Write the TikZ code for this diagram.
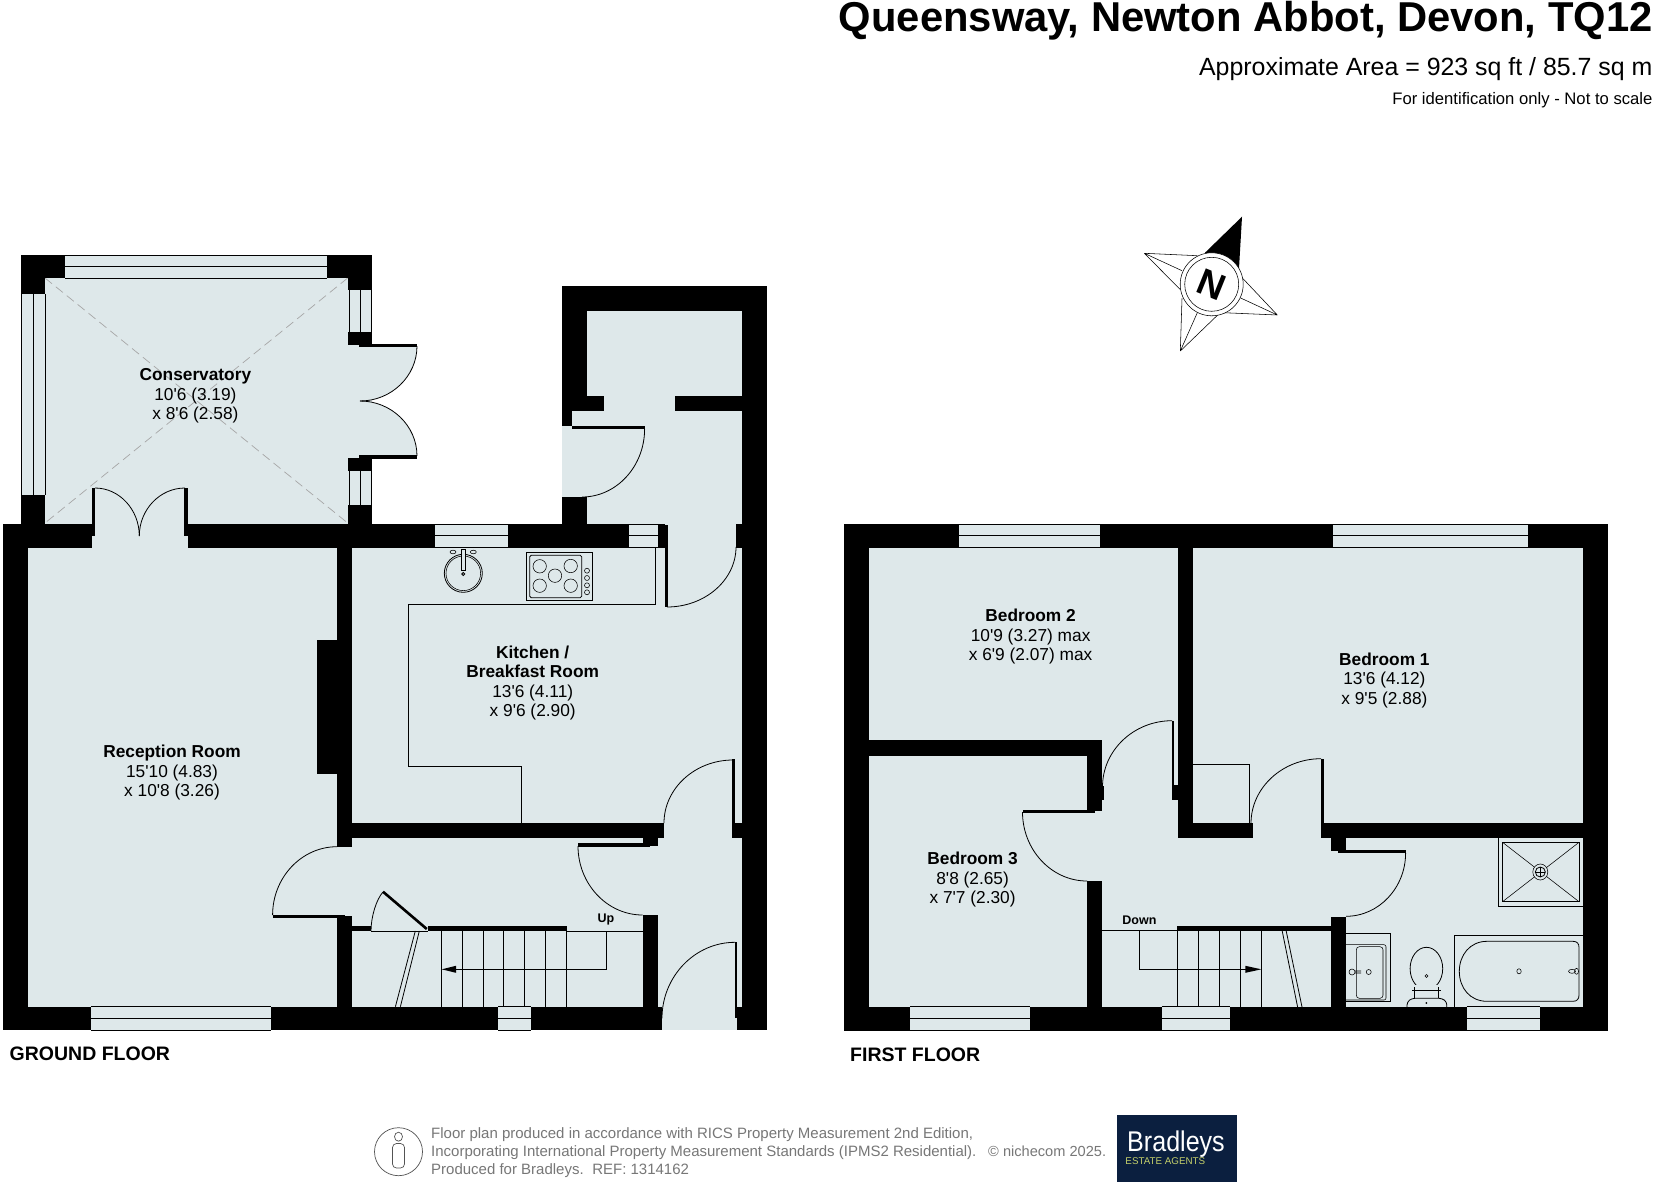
\documentclass[tikz,border=0pt]{standalone}
\usepackage{fontspec}
\setmainfont{Liberation Sans}
\usetikzlibrary{calc}
\definecolor{floorc}{HTML}{DEE8EA}
\definecolor{foot}{HTML}{777777}
\definecolor{navy}{HTML}{0B1F3F}
\definecolor{logoyel}{HTML}{C4CF6A}
\tikzset{
  wallfill/.style={fill=black},
  thinline/.style={draw=black,line width=0.8pt},
  hair/.style={draw=black,line width=0.55pt},
  roomlabel/.style={align=center,inner sep=0pt,font=\fontsize{17.3}{19.5}\selectfont},
  stairlabel/.style={inner sep=0pt,font=\bfseries\fontsize{12.5}{14}\selectfont},
  floorlabel/.style={anchor=base west,inner sep=0pt,font=\bfseries\fontsize{19.5}{22}\selectfont},
  footline/.style={anchor=base west,inner sep=0pt,text=foot,font=\fontsize{15}{18}\selectfont},
  titletext/.style={anchor=base east,inner sep=0pt}
}
\newcommand{\ap}{\textquotesingle}
\newcommand{\wl}[4]{\fill[wallfill] (#1,#2) rectangle (#3,#4);}
\newcommand{\hwin}[4]{\fill[floorc] (#1,#3) rectangle (#2,#4);
  \draw[thinline] (#1,#3) -- (#2,#3) (#1,{(#3+#4)/2}) -- (#2,{(#3+#4)/2}) (#1,#4) -- (#2,#4);}
\newcommand{\vwin}[4]{\fill[floorc] (#1,#3) rectangle (#2,#4);
  \draw[thinline] (#1,#3) -- (#1,#4) ({(#1+#2)/2},#3) -- ({(#1+#2)/2},#4) (#2,#3) -- (#2,#4);}
\newcommand{\swing}[3]{\draw[thinline] (#1) .. controls ($(#1)!0.55!(#2)$) and ($(#3)!0.55!(#2)$) .. (#3);}
\begin{document}
\begin{tikzpicture}[x=1pt,y=-1pt]
\useasboundingbox (0,0) rectangle (1656,1185);
\fill[white] (0,0) rectangle (1656,1185);
% ===== floors
\fill[floorc] (3,523.5) rectangle (767,1030.3);
\fill[floorc] (21,255) rectangle (371.6,523.5);
\fill[floorc] (562,286) rectangle (767,523.5);
\fill[floorc] (844,524) rectangle (1608,1030.7);
\fill[floorc] (360,345) -- (417,345) .. controls (417,376) and (391,401) .. (360,401)
   .. controls (391,401) and (417,426) .. (417,457) -- (360,457) -- cycle;
% ===== conservatory
\draw[gray!70,line width=0.7pt,dash pattern=on 9pt off 5pt] (45,278) -- (347.7,523) (347.7,278) -- (45,523);
\wl{21}{255}{65.2}{278.3}
\wl{21}{255}{45}{294}
\wl{21}{495}{45}{523.5}
\wl{326.8}{255}{371.6}{278.3}
\wl{347.7}{278}{371.6}{290}
\wl{347.7}{332}{371.6}{345.3}
\wl{359}{343.7}{417}{346.7}
\wl{359}{455}{417}{459}
\wl{347.7}{458}{371.6}{470.7}
\wl{347.7}{505}{371.6}{523.5}
\hwin{65.2}{326.8}{255}{278.3}
\vwin{21.5}{45}{294}{495}
\vwin{349}{371.6}{290}{332}
\vwin{349}{371.6}{470.7}{505}
\coordinate (ce1) at (417,346); \coordinate (cec) at (417,401); \coordinate (cem) at (360,401); \coordinate (ce2) at (417,456);
\swing{ce1}{cec}{cem}
\swing{ce2}{cec}{cem}
\wl{92}{488}{95}{536}
\wl{184}{488}{188}{536}
\coordinate (cs1) at (95,488); \coordinate (csc) at (139.3,488); \coordinate (csm) at (139.3,536); \coordinate (cs2) at (185,488);
\swing{cs1}{csc}{csm}
\swing{cs2}{csc}{csm}
% ===== ground floor walls
\wl{3}{523.5}{28}{1030.3}
\wl{3}{523.5}{92}{547.5}
\wl{188}{523.5}{434.7}{547.5}
\wl{507.9}{523.5}{629}{547.5}
\wl{658.3}{523.5}{665}{547.5}
\wl{736}{523.5}{767}{547.5}
\wl{742}{286}{767}{1006.7}
\wl{3}{1006.7}{91}{1030.3}
\wl{271}{1006.7}{498}{1030.3}
\wl{530.7}{1006.7}{662}{1030.3}
\wl{737}{1006.7}{767}{1030.3}
\hwin{91}{271}{1006.7}{1030.3}
\hwin{498}{530.7}{1006.7}{1030.3}
\hwin{434.7}{507.9}{524}{547.5}
\hwin{629}{658.3}{524}{547.5}
\wl{336.7}{547}{352}{846.7}
\wl{336.7}{916}{352}{1007}
\wl{317.3}{640}{336.7}{774}
\wl{272.6}{915}{345}{918}
\wl{352}{823}{664}{837.7}
\wl{642.6}{837.7}{658}{846}
\wl{578}{843.3}{649.6}{846.7}
\wl{732.2}{823}{742}{837.7}
\wl{732.3}{758.7}{735.3}{830}
\wl{642.6}{915}{658}{1007}
\wl{665}{525}{667.7}{607}
\wl{735}{942.3}{737}{1018.3}
\wl{427.8}{926}{567}{931.3}
\wl{352}{926}{371}{931.3}
% rear store
\wl{562}{286}{767}{311}
\wl{562}{286}{587}{411}
\wl{562}{411}{572}{426}
\wl{572}{426}{644.6}{429}
\wl{562}{497}{587}{523.5}
\wl{587}{396}{604}{411}
\wl{674.5}{396}{742}{411}
% door swings, ground floor
\coordinate (a1) at (644.6,429); \coordinate (a1c) at (644.6,497); \coordinate (a1e) at (582,497); \swing{a1}{a1c}{a1e}
\coordinate (a2) at (667,607); \coordinate (a2c) at (736,607); \coordinate (a2e) at (736,547); \swing{a2}{a2c}{a2e}
\coordinate (a3) at (733,760); \coordinate (a3c) at (664,760); \coordinate (a3e) at (664,823); \swing{a3}{a3c}{a3e}
\coordinate (a4) at (578,846); \coordinate (a4c) at (578,915); \coordinate (a4e) at (642.6,915); \swing{a4}{a4c}{a4e}
\coordinate (a5) at (735,942.3); \coordinate (a5c) at (662,942.3); \coordinate (a5e) at (662,1018.3); \swing{a5}{a5c}{a5e}
\coordinate (a6) at (272.6,915); \coordinate (a6c) at (272.6,846.7); \coordinate (a6e) at (337,846.7); \swing{a6}{a6c}{a6e}
\coordinate (a7) at (383,892); \coordinate (a7c) at (371,905); \coordinate (a7e) at (371,931); \swing{a7}{a7c}{a7e}
\draw[black,line width=2.6pt] (383,891.7) -- (426.8,929);
% stairs ground
\draw[thinline] (371,931.3) -- (427.8,931.3) (567,931.3) -- (642.6,931.3);
\foreach \sx in {441.7,462.6,483.5,503.4,524.3,545.6,566.5} {\draw[thinline] (\sx,931) -- (\sx,1006.7);}
\draw[thinline] (606.3,931) -- (606.3,969.3) -- (456,969.3);
\fill[black] (441.7,969.3) -- (456,965.8) -- (456,972.8) -- cycle;
\draw[thinline] (415.3,931) -- (395.4,1006.7) (419.3,931) -- (400.4,1006.7);
% kitchen fittings
\draw[thinline] (655.7,547.3) -- (655.7,604.3) -- (408.3,604.3) -- (408.3,766.3) -- (521.7,766.3) -- (521.7,823);
\draw[thinline] (463.3,573.3) circle (19);
\draw[hair] (463.3,573.3) circle (17.3);
\fill[floorc] (461,549.3) rectangle (465.6,570);
\draw[thinline] (461,549.3) rectangle (465.6,570);
\draw[thinline] (463.3,574) circle (1.5);
\draw[hair] (453,552) ellipse (3 and 1.8) (473.3,552) ellipse (3 and 1.8);
\draw[thinline] (526.3,552.3) rectangle (592.7,600.3);
\draw[thinline,rounded corners=1.5pt] (529.7,555.3) rectangle (581.7,597.7);
\foreach \bx/\by in {539.7/566.3,570.7/566,555/575.7,539.7/585.7,570.7/585.7} {\draw[hair] (\bx,\by) circle (6.7);}
\foreach \ky in {570.7,578,585.3,592.3} {\draw[hair] (587,\ky) circle (2.5);}
% ===== first floor walls
\wl{844}{524}{868.8}{1030.7}
\wl{1583}{524}{1608}{1030.7}
\wl{844}{524}{959}{547.5}
\wl{1100}{524}{1332.7}{547.5}
\wl{1528}{524}{1608}{547.5}
\wl{844}{1006.7}{910}{1030.7}
\wl{1030}{1006.7}{1161.8}{1030.7}
\wl{1230}{1006.7}{1466.7}{1030.7}
\wl{1539.8}{1006.7}{1608}{1030.7}
\hwin{959}{1100}{524}{547.5}
\hwin{1332.7}{1528}{524}{547.5}
\hwin{910}{1030}{1006.7}{1030.7}
\hwin{1161.8}{1230}{1006.7}{1030.7}
\hwin{1466.7}{1539.8}{1006.7}{1030.7}
\wl{868.8}{740}{1102}{755.7}
\wl{1087}{740}{1102}{810.7}
\wl{1102}{786}{1103.6}{800}
\wl{1022.5}{810}{1095}{813.3}
\wl{1087}{881}{1102}{1007}
\wl{1178}{547}{1193}{837.7}
\wl{1171.8}{720.7}{1174}{791.7}
\wl{1172}{785}{1178}{800}
\wl{1178}{823.3}{1253}{837.7}
\wl{1321}{758.7}{1323.5}{837.7}
\wl{1321.5}{823.3}{1583}{837.7}
\wl{1331.4}{837}{1346}{851}
\wl{1338.4}{850}{1405.6}{853}
\wl{1331.4}{916.7}{1346}{1007}
\wl{1177}{926}{1331.4}{931}
\draw[thinline] (1193,764.3) -- (1249.4,764.3) -- (1249.4,823);
\coordinate (b1) at (1022.5,812); \coordinate (b1c) at (1022.5,881); \coordinate (b1e) at (1087,881); \swing{b1}{b1c}{b1e}
\coordinate (b2) at (1172,720.7); \coordinate (b2c) at (1102.5,720.7); \coordinate (b2e) at (1102.5,786.7); \swing{b2}{b2c}{b2e}
\coordinate (b3) at (1321,758.7); \coordinate (b3c) at (1251,758.7); \coordinate (b3e) at (1251,823.3); \swing{b3}{b3c}{b3e}
\coordinate (b4) at (1405.6,853); \coordinate (b4c) at (1405.6,916.3); \coordinate (b4e) at (1346,916.3); \swing{b4}{b4c}{b4e}
% stairs first
\draw[thinline] (1102,930.5) -- (1177,930.5);
\foreach \sx in {1177,1198.6,1219.5,1240.4,1261.3} {\draw[thinline] (\sx,931) -- (\sx,1007);}
\draw[thinline] (1139.4,930.5) -- (1139.4,969.3) -- (1247,969.3);
\fill[black] (1261.3,969.3) -- (1245.4,965.8) -- (1245.4,972.8) -- cycle;
\draw[thinline] (1282.2,931) -- (1297.6,1007) (1286.2,931) -- (1302,1007);
% bathroom
\draw[thinline] (1498,837.7) rectangle (1583,906.3);
\draw[thinline] (1502.5,842.3) rectangle (1579,901.7);
\draw[hair] (1502.5,842.3) -- (1579,901.7) (1502.5,901.7) -- (1579,842.3);
\fill[floorc] (1540.3,872) ellipse (7.5 and 8);
\draw[hair] (1540.3,872) ellipse (7.5 and 8);
\draw[thinline] (1540.3,872) circle (5);
\draw[hair] (1535.3,872) -- (1545.3,872) (1540.3,867) -- (1540.3,877);
\draw[thinline] (1346,933.3) -- (1390.6,933.3) -- (1390.6,1001.7) -- (1346,1001.7);
\draw[hair,rounded corners=2pt] (1346,944.7) -- (1386,944.7) -- (1386,1000) -- (1346,1000);
\draw[hair,rounded corners=3pt] (1356.3,946.7) rectangle (1383,998.3);
\draw[hair] (1352,972) circle (3) (1368.7,972) circle (2.5) (1355,971) -- (1361,971) (1355,973) -- (1361,973);
\draw[thinline] (1426.4,968.6) ellipse (16.3 and 21.3);
\draw[thinline] (1414.5,987) -- (1414.5,998.3) (1438.3,987) -- (1438.3,998.3);
\fill[floorc] (1415,985) rectangle (1438,997);
\draw[thinline] (1412,990) -- (1441,990);
\draw[thinline,rounded corners=3pt] (1407,1007) -- (1407,1002) -- (1412,998.3) -- (1442,998.3) -- (1446.8,1002) -- (1446.8,1007);
\draw[hair] (1426.4,976) circle (1.5);
\fill[black] (1426.4,1003) circle (1);
\draw[thinline] (1454.3,1006.7) -- (1454.3,935.3) -- (1583,935.3);
\draw[thinline] (1573,941.3) -- (1487,941.3) .. controls (1470,941.3) and (1459.3,955) .. (1459.3,971.3)
   .. controls (1459.3,988) and (1470,1001.3) .. (1487,1001.3) -- (1573,1001.3)
   .. controls (1577,1001.3) and (1579,999) .. (1579,995) -- (1579,947.5)
   .. controls (1579,943.5) and (1577,941.3) .. (1573,941.3) -- cycle;
\draw[hair] (1519,971.3) ellipse (2.2 and 2.6);
\draw[hair] (1572,971.3) ellipse (3.5 and 2) (1576.5,971.3) ellipse (2 and 3);
% ===== labels
\node[roomlabel] (conservatory) at (195.4,396) {\textbf{Conservatory}\\10\ap 6 (3.19)\\x 8\ap 6 (2.58)};
\node[roomlabel] (kitchen) at (532.7,683) {\textbf{Kitchen /}\\\textbf{Breakfast Room}\\13\ap 6 (4.11)\\x 9\ap 6 (2.90)};
\node[roomlabel] (reception) at (172,773) {\textbf{Reception Room}\\15\ap 10 (4.83)\\x 10\ap 8 (3.26)};
\node[roomlabel] (bed2) at (1030.6,637) {\textbf{Bedroom 2}\\10\ap 9 (3.27) max\\x 6\ap 9 (2.07) max};
\node[roomlabel] (bed1) at (1384.4,680.5) {\textbf{Bedroom 1}\\13\ap 6 (4.12)\\x 9\ap 5 (2.88)};
\node[roomlabel] (bed3) at (972.6,880) {\textbf{Bedroom 3}\\8\ap 8 (2.65)\\x 7\ap 7 (2.30)};
\node[stairlabel] (uplabel) at (606,919) {Up};
\node[stairlabel] (downlabel) at (1139.4,920.7) {Down};
\node[floorlabel] (gf) at (9.5,1060.5) {GROUND FLOOR};
\node[floorlabel] (ff) at (850,1061.5) {FIRST FLOOR};
% ===== title
\node[titletext,font=\bfseries\fontsize{41.75}{46}\selectfont] (title) at (1652.6,31.5) {Queensway, Newton Abbot, Devon, TQ12};
\node[titletext,font=\fontsize{24.9}{28}\selectfont] (area) at (1652.6,76) {Approximate Area = 923 sq ft / 85.7 sq m};
\node[titletext,font=\fontsize{16.65}{19}\selectfont] (note) at (1652.6,105) {For identification only - Not to scale};
% ===== compass
\draw[hair] (1144.3,253.3) -- (1197.3,255.7) (1144.3,253.3) -- (1180.7,290) (1144.3,253.3) -- (1182,270.7);
\draw[hair] (1277.3,315) -- (1241.7,277.3) (1277.3,315) -- (1223.3,312.7) (1277.3,315) -- (1240,297.7);
\draw[hair] (1180.3,351) -- (1182,298.3) (1180.3,351) -- (1217.7,315) (1180.3,351) -- (1197.3,312.7);
\fill[black] (1205,252.7) -- (1242,216.7) -- (1239,268.3) -- cycle;
\draw[hair,fill=white] (1211.7,284.3) circle (31.5);
\draw[hair] (1211.7,284.3) circle (27);
\node[inner sep=0pt,rotate=-22,font=\bfseries\fontsize{37}{39}\selectfont] (north) at (1212,285) {N};
% ===== footer
\draw[draw=foot!70!black,line width=0.7pt] (398.5,1151.7) circle (24);
\draw[draw=foot!70!black,line width=0.7pt] (398.5,1136.7) ellipse (4 and 4.5);
\draw[draw=foot!70!black,line width=0.7pt,rounded corners=4pt] (392.5,1143.5) rectangle (404.5,1168);
\node[footline] (f1) at (431,1138) {Floor plan produced in accordance with RICS Property Measurement 2nd Edition,};
\node[footline] (f2) at (431,1156) {Incorporating International Property Measurement Standards (IPMS2 Residential).};
\node[footline] (f3) at (431,1174) {Produced for Bradleys.\hspace{8.5pt}REF: 1314162};
\node[footline,font=\fontsize{14.6}{18}\selectfont] (f4) at (988,1156) {© nichecom 2025.};
\fill[navy] (1117,1115) rectangle (1237,1181.7);
\node[inner sep=0pt,text=white,xscale=0.88,font=\fontsize{28.5}{32}\selectfont] (logo) at (1176,1144) {Bradleys};
\node[inner sep=0pt,text=logoyel,font=\fontsize{9.8}{11}\selectfont] (logo2) at (1165.3,1161) {ESTATE AGENTS};
\end{tikzpicture}
\end{document}
